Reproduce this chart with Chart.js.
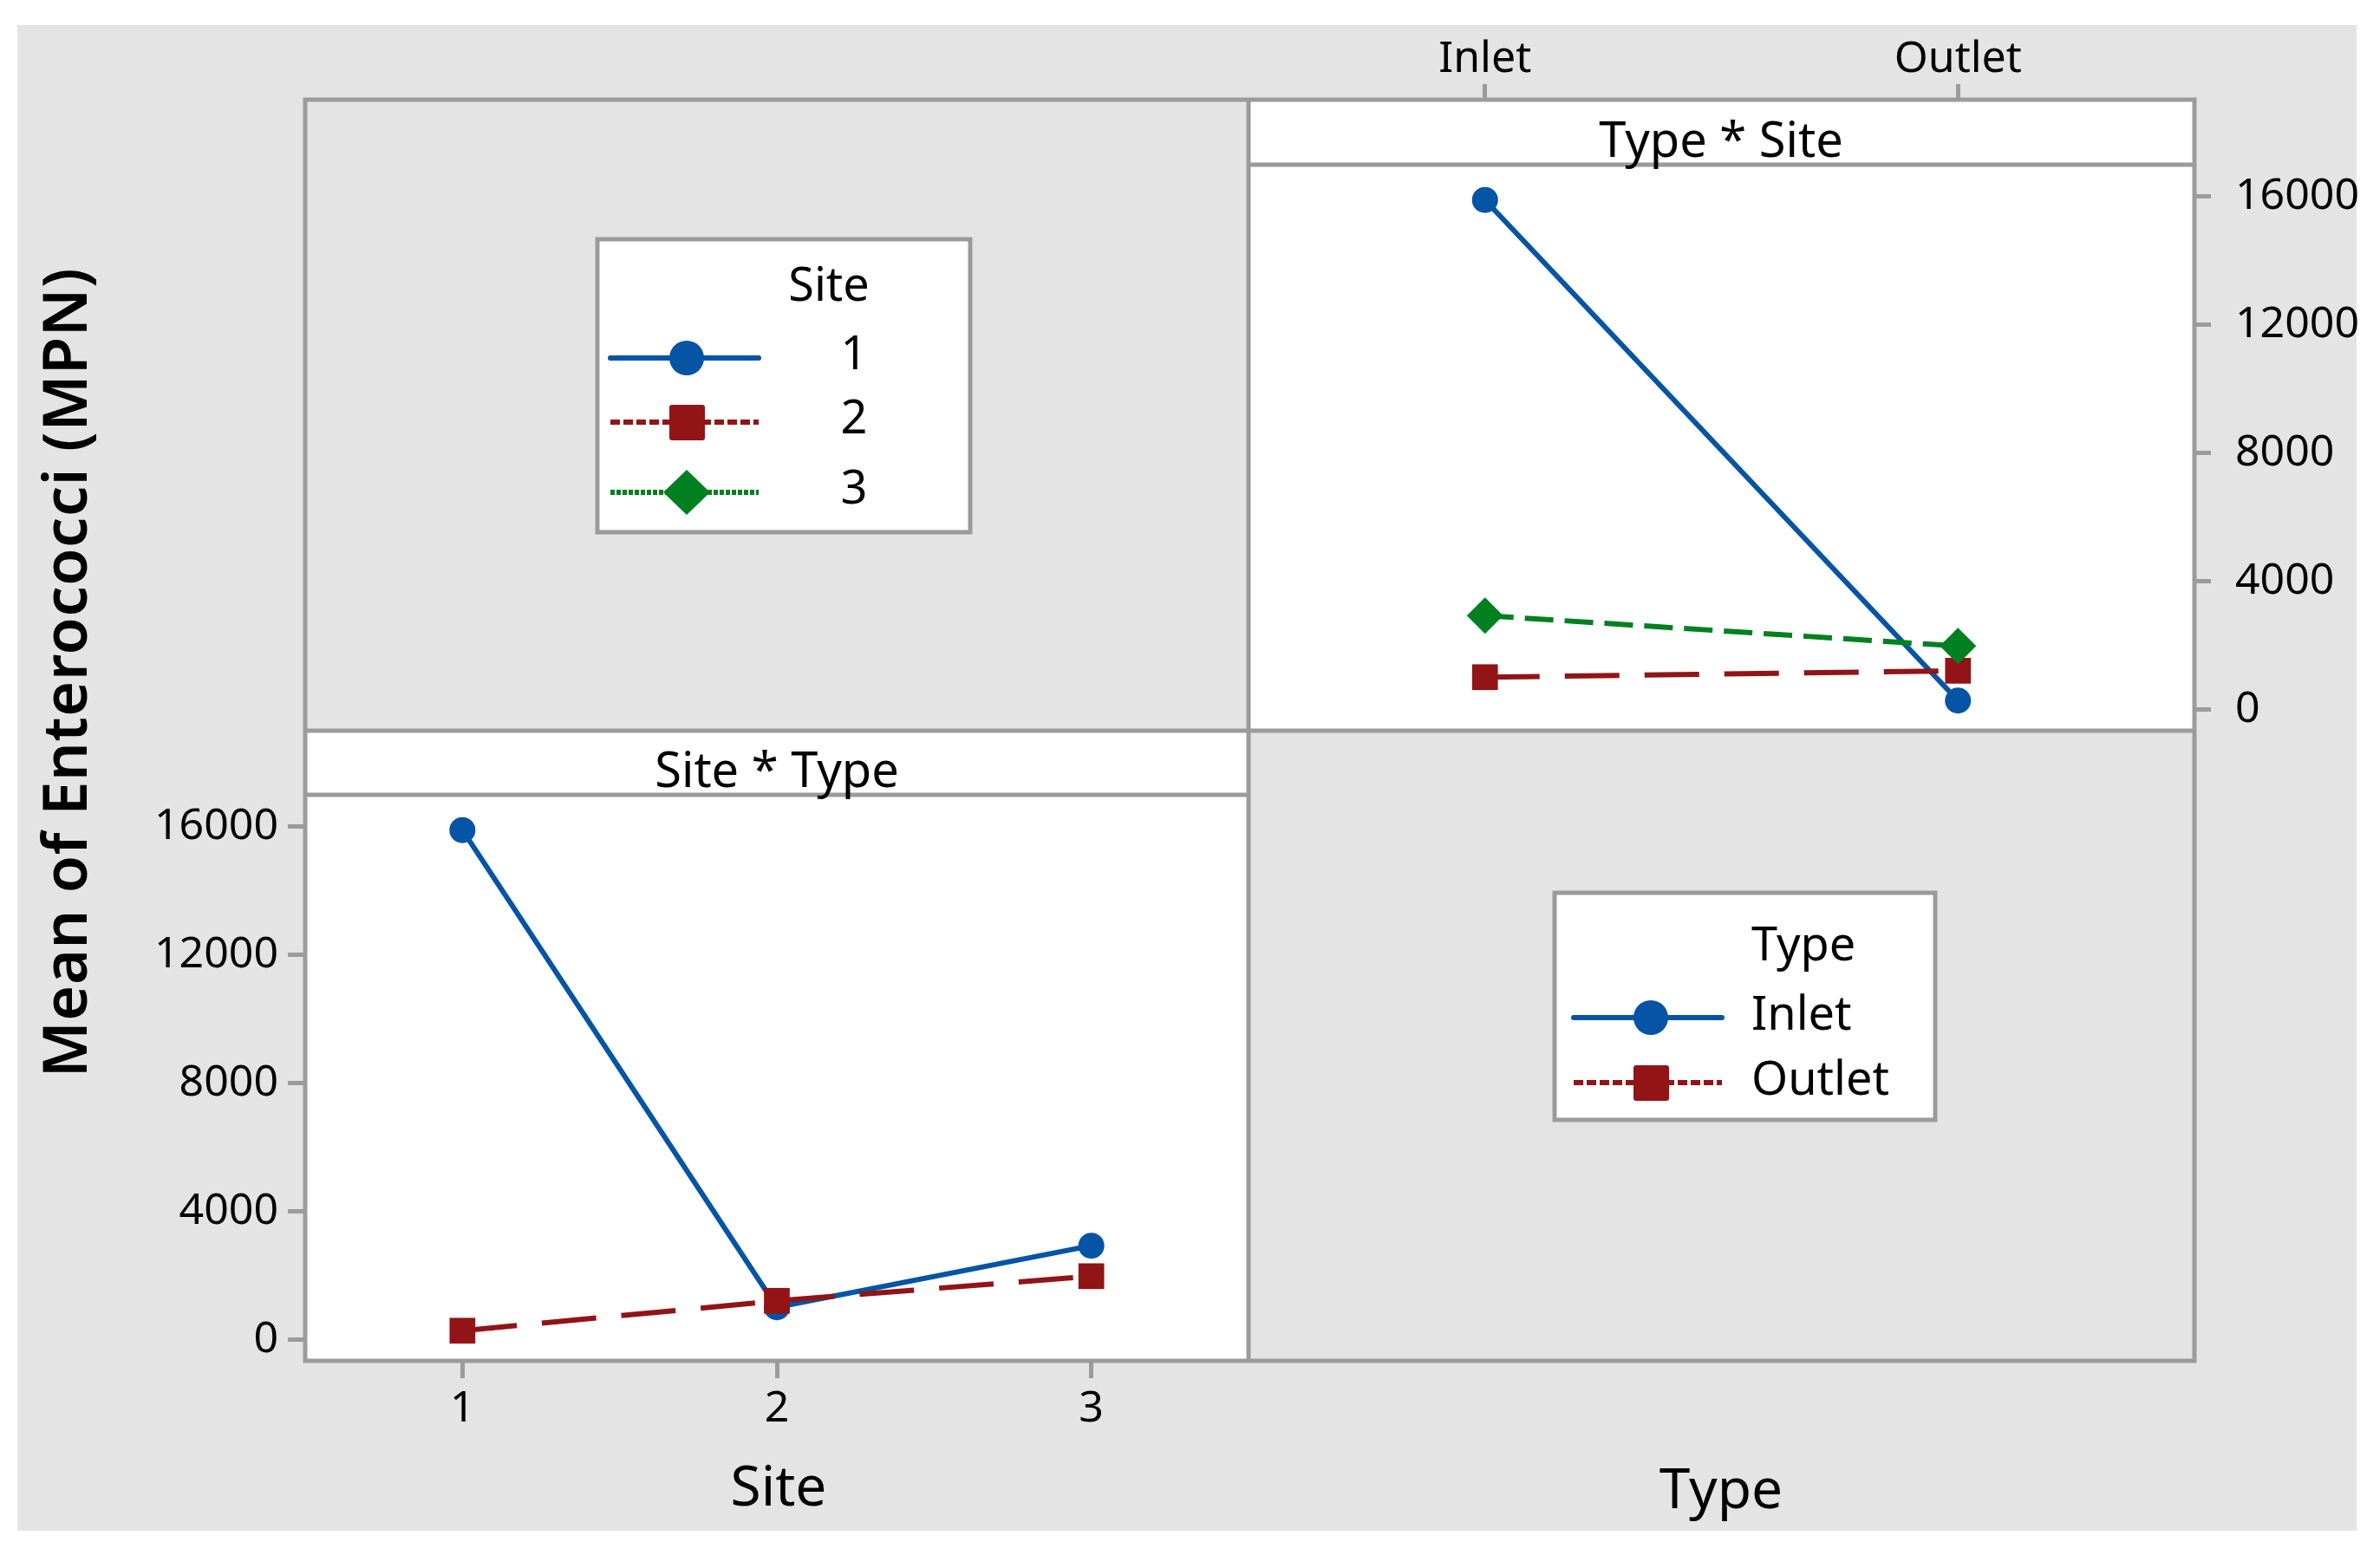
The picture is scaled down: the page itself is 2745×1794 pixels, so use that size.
<!DOCTYPE html>
<html>
<head>
<meta charset="utf-8">
<script src="https://cdn.jsdelivr.net/npm/chart.js@4.4.1/dist/chart.umd.min.js"></script>
<style>
  body { margin: 0; background: #fff; }
  #stage { position: relative; width: 2745px; height: 1794px; overflow: hidden; font-family: 'Noto Sans', sans-serif; }
  .abs { position: absolute; }
  .txt { position: absolute; white-space: nowrap; color: #000; }
</style>
</head>
<body>
<div id="stage">
  <div class="abs" style="left:20px;top:29px;width:2698px;height:1737px;background:#e4e4e4"></div>
  <div class="abs" style="left:1440px;top:115px;width:1091px;height:728px;background:#fff"></div>
  <div class="abs" style="left:352px;top:843px;width:1088px;height:727px;background:#fff"></div>
  <canvas id="siteChart" class="abs" style="left:120px;top:917px" width="1320" height="753"></canvas>
  <canvas id="typeChart" class="abs" style="left:1440px;top:25px" width="1291" height="818"></canvas>
  <svg class="abs" style="left:0;top:0" width="2745" height="1794">
    <g stroke="#9b9b9b" stroke-width="5" fill="none">
      <rect x="352" y="115" width="2179" height="1455"/>
      <line x1="1440" y1="115" x2="1440" y2="1570"/>
      <line x1="352" y1="843" x2="2531" y2="843"/>
      <line x1="1440" y1="190" x2="2531" y2="190"/>
      <line x1="352" y1="917" x2="1440" y2="917"/>
      <rect x="689" y="276" width="430" height="338" fill="#fff"/>
      <rect x="1793" y="1030" width="439" height="262" fill="#fff"/>
    </g>
    <g stroke-width="6">
      <line x1="704" y1="413" x2="875" y2="413" stroke="#0554a5" stroke-linecap="round"/>
      <circle cx="792" cy="413" r="20" fill="#0554a5" stroke="none"/>
      <line x1="704" y1="487" x2="875" y2="487" stroke="#921416" stroke-dasharray="11 4"/>
      <rect x="772" y="467" width="41" height="41" rx="3" fill="#921416" stroke="none"/>
      <line x1="704" y1="568" x2="875" y2="568" stroke="#00801f" stroke-dasharray="5 2"/>
      <polygon points="792,542 819,568 792,594 765,568" fill="#00801f" stroke="none"/>
      <line x1="1815" y1="1174" x2="1986" y2="1174" stroke="#0554a5" stroke-linecap="round"/>
      <circle cx="1904" cy="1174" r="20" fill="#0554a5" stroke="none"/>
      <line x1="1815" y1="1249" x2="1986" y2="1249" stroke="#921416" stroke-dasharray="11 4"/>
      <rect x="1884" y="1229" width="41" height="41" rx="3" fill="#921416" stroke="none"/>
    </g>
  </svg>
</div>
<script>
// values
const siteLabels = ['1', '2', '3'];
const typeLabels = ['Inlet', 'Outlet'];
const inletMeans = [15900, 1020, 2940];   // Inlet mean per site
const outletMeans = [290, 1220, 1990];    // Outlet mean per site
const yTicks = [0, 4000, 8000, 12000, 16000];

const FONT = "'Noto Sans', sans-serif";
const BLUE = '#0554a5', RED = '#921416', GREEN = '#00801f';

const stage = document.getElementById('stage');
function label(text, x, baseline, size, align, weight) {
  const d = document.createElement('div');
  d.className = 'txt';
  d.textContent = text;
  d.style.fontSize = size + 'px';
  d.style.lineHeight = size + 'px';
  d.style.fontWeight = weight || 400;
  d.style.top = (baseline - 0.888 * size) + 'px';
  d.style.left = x + 'px';
  if (align === 'center') d.style.transform = 'translateX(-50%)';
  stage.appendChild(d);
  return d;
}

label('Type * Site', 1985, 181, 56, 'center');
label('Site * Type', 896, 908, 56, 'center');
label('Site', 898, 1738, 64, 'center');
label('Type', 1985, 1741, 64, 'center');
label('Site', 956, 347, 54, 'center');
siteLabels.forEach(function(s, i) { label(s, 985, [426, 500, 581][i], 54, 'center'); });
label('Type', 2020, 1108, 54);
typeLabels.forEach(function(t, i) { label(t, 2020, [1188, 1263][i], 54); });

// rotated y title, spaced out to the reference length
(function() {
  const txt = 'Mean of Enterococci (MPN)';
  const size = 70;
  const ctx = document.createElement('canvas').getContext('2d');
  ctx.font = '600 ' + size + 'px ' + FONT;
  const w = ctx.measureText(txt).width;
  const spacing = (934 - w) / (txt.length - 1);
  const d = document.createElement('div');
  d.className = 'txt';
  d.textContent = txt;
  d.style.font = '600 ' + size + 'px ' + FONT;
  d.style.lineHeight = size + 'px';
  d.style.letterSpacing = spacing + 'px';
  d.style.left = '73px';
  d.style.top = '776px';
  d.style.transform = 'translate(-50%, -50%) rotate(-90deg)';
  stage.appendChild(d);
})();

// fixed axis size, no label overhang padding, so the plot area sits on the panel frame
function fitTo(prop, size) {
  return function(s) {
    s[prop] = size;
    s.paddingTop = s.paddingBottom = s.paddingLeft = s.paddingRight = 0;
  };
}

function axis(tickLen, pad, extra) {
  return Object.assign({
    border: { display: false },
    grid: { display: true, drawOnChartArea: false, drawTicks: true, tickLength: tickLen, color: '#9b9b9b', lineWidth: 5, offset: false },
    ticks: { color: '#000', font: { family: FONT, size: 50 }, padding: pad, maxRotation: 0, autoSkip: false }
  }, extra);
}
function valueAxis(min, max, pos, width, pad) {
  const a = axis(pos === 'left' ? 20 : 19, pad, {
    type: 'linear', position: pos, min: min, max: max, bounds: 'data',
    afterBuildTicks: function(s) {
      s.ticks = yTicks.map(function(v) { return { value: v }; });
      s.min = min; s.max = max;
    },
    afterFit: fitTo('width', width)
  });
  a.ticks.callback = function(v) { return String(v); };
  return a;
}

const baseOpts = {
  responsive: false,
  animation: false,
  events: [],
  layout: { padding: 0, autoPadding: false },
  plugins: { legend: { display: false }, tooltip: { enabled: false } }
};

function series(label, data, color, dash, style, radius, order) {
  return {
    label: label, data: data, order: order,
    borderColor: color, backgroundColor: color, borderWidth: 6, borderDash: dash,
    pointStyle: style, pointRadius: radius, pointBackgroundColor: color, pointBorderWidth: 0,
    tension: 0, fill: false
  };
}

new Chart(document.getElementById('siteChart').getContext('2d'), {
  type: 'line',
  data: {
    labels: siteLabels,
    datasets: [
      series('Inlet', inletMeans, BLUE, [], 'circle', 15, 2),
      series('Outlet', outletMeans, RED, [63, 29], 'rect', 21, 1)
    ]
  },
  options: Object.assign({}, baseOpts, {
    scales: {
      x: axis(20, 6, { type: 'category', position: 'bottom', offset: true, afterFit: fitTo('height', 100) }),
      y: valueAxis(-650, 17000, 'left', 232, 11)
    }
  })
});

const siteStyles = [
  [BLUE, [], 'circle', 15],
  [RED, [63, 29], 'rect', 21],
  [GREEN, [33, 13], 'rectRot', 21]
];
new Chart(document.getElementById('typeChart').getContext('2d'), {
  type: 'line',
  data: {
    labels: typeLabels,
    datasets: siteLabels.map(function(s, i) {
      const st = siteStyles[i];
      return series(s, [inletMeans[i], outletMeans[i]], st[0], st[1], st[2], st[3], 3 - i);
    })
  },
  options: Object.assign({}, baseOpts, {
    scales: {
      x: axis(18, -2, { type: 'category', position: 'top', offset: true, afterFit: fitTo('height', 90) }),
      y: valueAxis(-649, 19027, 'right', 200, 28)
    }
  })
});
</script>
</body>
</html>
